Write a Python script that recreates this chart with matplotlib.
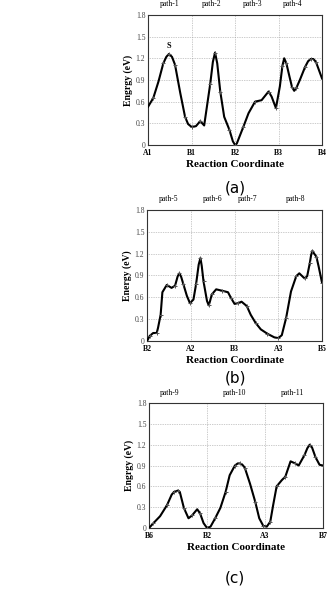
import matplotlib
matplotlib.use("Agg")
import matplotlib.pyplot as plt

# panel (a): path-1 .. path-4
a_x = [0.0, 0.12, 0.24, 0.35, 0.42, 0.48, 0.55, 0.62, 0.74, 0.85, 0.92, 1.0, 1.1, 1.2,
       1.29, 1.43, 1.49, 1.54, 1.59, 1.66, 1.75, 1.87, 1.95, 2.0, 2.04, 2.19, 2.31, 2.46,
       2.61, 2.77, 2.84, 2.94, 3.03, 3.09, 3.13, 3.18, 3.25, 3.31, 3.36, 3.41, 3.49, 3.61,
       3.68, 3.74, 3.8, 3.86, 4.0]
a_y = [0.53, 0.65, 0.88, 1.13, 1.22, 1.26, 1.22, 1.11, 0.72, 0.39, 0.29, 0.25, 0.26, 0.33,
       0.27, 0.85, 1.15, 1.28, 1.13, 0.74, 0.39, 0.21, 0.05, 0.0, 0.02, 0.25, 0.44, 0.6,
       0.62, 0.74, 0.67, 0.51, 0.81, 1.1, 1.2, 1.13, 0.95, 0.8, 0.75, 0.79, 0.9, 1.08,
       1.16, 1.19, 1.19, 1.15, 0.92]
a_ticks = ["A1", "B1", "B2", "B3", "B4"]
a_paths = ["path-1", "path-2", "path-3", "path-4"]
a_path_x = [0.5, 1.47, 2.41, 3.33]

# panel (b): path-5 .. path-8
b_x = [0.0, 0.06, 0.14, 0.22, 0.25, 0.31, 0.35, 0.45, 0.56, 0.64, 0.7, 0.74, 0.78, 0.83,
       0.91, 0.98, 1.06, 1.12, 1.18, 1.22, 1.25, 1.29, 1.37, 1.41, 1.44, 1.48, 1.58, 1.72,
       1.85, 1.92, 2.0, 2.08, 2.16, 2.28, 2.37, 2.48, 2.6, 2.75, 2.91, 3.0, 3.08, 3.18,
       3.29, 3.41, 3.48, 3.6, 3.66, 3.72, 3.75, 3.78, 3.82, 3.87, 3.92, 4.0]
b_y = [0.0, 0.07, 0.11, 0.11, 0.18, 0.36, 0.67, 0.77, 0.73, 0.76, 0.89, 0.93, 0.88, 0.78,
       0.62, 0.52, 0.57, 0.78, 1.05, 1.14, 1.03, 0.82, 0.55, 0.49, 0.55, 0.64, 0.71, 0.69,
       0.67, 0.59, 0.51, 0.52, 0.54, 0.48, 0.36, 0.25, 0.16, 0.10, 0.05, 0.04, 0.08, 0.32,
       0.68, 0.89, 0.93, 0.86, 0.89, 1.07, 1.18, 1.24, 1.2, 1.16, 1.03, 0.8]
b_ticks = ["B2", "A2", "B3", "A3", "B5"]
b_paths = ["path-5", "path-6", "path-7", "path-8"]
b_path_x = [0.48, 1.5, 2.3, 3.4]

# panel (c): path-9 .. path-11
c_x = [0.0, 0.075, 0.19, 0.31, 0.39, 0.43, 0.47, 0.5, 0.53, 0.6, 0.68, 0.74, 0.83, 0.88,
       0.94, 1.0, 1.06, 1.14, 1.23, 1.32, 1.39, 1.48, 1.53, 1.57, 1.61, 1.65, 1.74, 1.83,
       1.9, 1.97, 2.03, 2.09, 2.14, 2.2, 2.29, 2.35, 2.44, 2.52, 2.58, 2.68, 2.73, 2.77,
       2.81, 2.87, 2.94, 3.0]
c_y = [0.0, 0.07, 0.17, 0.33, 0.48, 0.52, 0.53, 0.54, 0.52, 0.29, 0.14, 0.18, 0.27, 0.21,
       0.07, 0.0, 0.02, 0.14, 0.29, 0.52, 0.76, 0.9, 0.93, 0.93, 0.91, 0.87, 0.64, 0.38,
       0.14, 0.03, 0.02, 0.09, 0.33, 0.6, 0.69, 0.74, 0.96, 0.93, 0.9, 1.05, 1.15, 1.2,
       1.16, 1.02, 0.91, 0.9]
c_ticks = ["B6", "B2", "A3", "B7"]
c_paths = ["path-9", "path-10", "path-11"]
c_path_x = [0.36, 1.48, 2.48]

yticks = [0, 0.3, 0.6, 0.9, 1.2, 1.5, 1.8]
ytick_labels = ["0", "0.3", "0.6", "0.9", "1.2", "1.5", "1.8"]

plt.rcParams["font.family"] = ["Liberation Serif", "DejaVu Serif"]

fig = plt.figure(figsize=(3.32, 5.91), dpi=100)


def panel(rect, xs, ys, ticks, paths, path_x, ylabel, letter, letter_y):
    ax = fig.add_axes(rect)
    n = len(ticks) - 1
    ax.plot(xs, ys, color="black", lw=1.5, zorder=3, solid_joinstyle="round")
    ax.plot(xs[1::2], ys[1::2], "+", color="#555555", ms=3, mew=0.7, zorder=4)
    ax.set_xlim(0, n)
    ax.set_ylim(0, 1.8)
    ax.set_xticks(range(n + 1))
    ax.set_xticklabels(ticks, fontsize=5.5, fontweight="bold")
    ax.set_yticks(yticks)
    ax.set_yticklabels(ytick_labels, fontsize=5.5, color="#444444")
    ax.tick_params(axis="x", length=0, pad=3)
    ax.tick_params(axis="y", length=0, pad=2)
    ax.grid(True, ls=(0, (1, 1.5)), color="#999999", lw=0.5)
    for s in ax.spines.values():
        s.set_color("#333333")
        s.set_linewidth(0.8)
    ax.set_ylabel(ylabel, fontsize=7, fontweight="bold", labelpad=2)
    ax.set_xlabel("Reaction Coordinate", fontsize=8, fontweight="bold", labelpad=2)
    for name, px in zip(paths, path_x):
        ax.text(px, 1.89, name, fontsize=5.5, ha="center", va="bottom")
    fig.text(0.708, letter_y, letter, fontsize=11, ha="center", va="center",
             family="DejaVu Sans")
    return ax


ax_a = panel([0.446, 0.7547, 0.524, 0.220], a_x, a_y, a_ticks, a_paths, a_path_x,
             "Engrgy (eV)", "(a)", 1 - 188 / 591)
ax_a.text(0.48, 1.32, "S", fontsize=6, fontweight="bold", ha="center", va="bottom")

panel([0.443, 0.423, 0.527, 0.2217], b_x, b_y, b_ticks, b_paths, b_path_x,
      "Energy (eV)", "(b)", 1 - 378 / 591)

panel([0.449, 0.1066, 0.524, 0.2115], c_x, c_y, c_ticks, c_paths, c_path_x,
      "Engrgy (eV)", "(c)", 1 - 578 / 591)

fig.savefig("out.png", dpi=100)
